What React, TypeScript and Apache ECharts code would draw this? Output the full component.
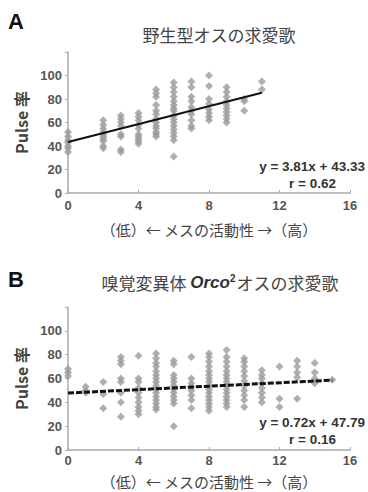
import React, { useEffect, useRef } from "react";
import * as echarts from "echarts";

// Panel A: wild-type males
const wtX = [0, 2, 3, 4, 5, 6, 7, 8, 9, 10, 11];
const wtPulse: number[][] = [
  [52, 48, 45, 43, 40, 38, 35],
  [62, 58, 55, 52, 50, 48, 46, 44, 40, 38],
  [66, 63, 60, 57, 50, 48, 37, 35],
  [68, 65, 62, 58, 55, 50, 48, 46, 44, 42],
  [88, 85, 82, 75, 70, 67, 63, 60, 57, 55, 52, 50, 48],
  [94, 90, 86, 82, 78, 75, 72, 70, 66, 63, 60, 57, 54, 51, 48, 45, 31],
  [95, 90, 82, 78, 73, 70, 67, 62, 57, 55],
  [100, 91, 80, 76, 71, 68, 65, 62],
  [90, 86, 82, 78, 75, 72, 69, 66, 63, 60],
  [80, 78, 70],
  [95, 88],
];
const wtSlope = 3.81;
const wtIntercept = 43.33;
const wtR = 0.62;
const wtFitRange = [0, 11];

// Panel B: Orco2 mutant males
const orX = [0, 1, 2, 3, 4, 5, 6, 7, 8, 9, 10, 11, 12, 13, 14, 15];
const orPulse: number[][] = [
  [68, 65, 62],
  [53, 50, 48],
  [57, 47, 35],
  [78, 75, 72, 60, 57, 48, 40, 28],
  [79, 60, 57, 52, 48, 44, 40, 36, 33, 30],
  [81, 77, 73, 70, 66, 63, 60, 57, 54, 51, 48, 45, 42, 39, 36, 34],
  [75, 72, 63, 60, 57, 54, 51, 48, 45, 42, 39, 20],
  [78, 60, 56, 53, 50, 46, 42, 35],
  [81, 78, 74, 70, 66, 63, 60, 57, 54, 51, 48, 45, 42, 39, 36, 33],
  [84, 78, 74, 70, 66, 63, 60, 57, 54, 51, 48, 45, 42, 39, 36],
  [77, 74, 70, 66, 62, 58, 54, 50, 46, 42, 36],
  [67, 63, 60, 56, 52, 48, 44, 40],
  [70, 43, 36],
  [75, 70, 65, 61, 43],
  [73, 65, 60, 56],
  [59],
];
const orSlope = 0.72;
const orIntercept = 47.79;
const orR = 0.16;
const orFitRange = [0, 15];

const xTicks = [0, 4, 8, 12, 16];
const yTicks = [0, 20, 40, 60, 80, 100];

const titleA = "野生型オスの求愛歌";
const titleBPre = "嗅覚変異体 ";
const titleBItal = "Orco";
const titleBSup = "2";
const titleBPost = "オスの求愛歌";
const xName = "（低）← メスの活動性 →（高）";
const yName = "Pulse 率";

const JP = '"Noto Sans CJK JP", "Noto Sans", sans-serif';
const LAT = '"Liberation Sans", Arial, "Noto Sans CJK JP", sans-serif';

function toPoints(xs: number[], ys: number[][]) {
  const out: number[][] = [];
  xs.forEach((x, i) => ys[i].forEach((y) => out.push([x, y])));
  return out;
}

function fmtEq(s: number, b: number) {
  return `y = ${s.toFixed(2)}x + ${b.toFixed(2)}`;
}

export default function App() {
  const ref = useRef<HTMLDivElement>(null);
  useEffect(() => {
    document.body.style.margin = "0";
    const chart = echarts.init(ref.current!, undefined, { renderer: "svg" });
    const grids = [
      { left: 68, right: 18, top: 52, height: 141 },
      { left: 68, right: 18, top: 307, height: 143 },
    ];
    const nameGaps = [29, 24];
    const labelMargins = [6, 4];
    const xAxis = [0, 1].map((i) => ({
      type: "value",
      gridIndex: i,
      min: 0,
      max: 16,
      interval: 4,
      name: xName,
      nameLocation: "middle",
      nameGap: nameGaps[i],
      nameTextStyle: { fontFamily: JP, fontSize: 15, color: "#444", lineHeight: 15 },
      axisLine: { lineStyle: { color: "#aaa", width: 1.5 } },
      axisTick: { show: true, inside: true, length: 3, lineStyle: { color: "#aaa" } },
      splitLine: { show: false },
      axisLabel: {
        fontFamily: LAT,
        fontSize: 13,
        lineHeight: 13,
        fontWeight: "bold",
        color: "#555",
        margin: labelMargins[i],
        formatter: (v: number) => (xTicks.includes(v) ? String(v) : ""),
      },
    }));
    const yAxis = [0, 1].map((i) => ({
      type: "value",
      gridIndex: i,
      min: 0,
      max: 120,
      interval: 20,
      name: yName,
      nameLocation: "middle",
      nameGap: 30,
      nameRotate: 90,
      nameTextStyle: { fontFamily: JP, fontSize: 16, fontWeight: "bold", color: "#444" },
      axisLine: { show: true, lineStyle: { color: "#aaa", width: 1.5 } },
      axisTick: { show: true, length: 3, lineStyle: { color: "#aaa" } },
      splitLine: { show: false },
      axisLabel: {
        fontFamily: LAT,
        fontSize: 13,
        fontWeight: "bold",
        color: "#555",
        margin: 6,
        formatter: (v: number) => (yTicks.includes(v) ? String(v) : ""),
      },
    }));
    const scatterStyle = { color: "#9b9b9b" };
    const eqFont = `bold 13.5px ${LAT}`;
    chart.setOption({
      animation: false,
      backgroundColor: "#fff",
      grid: grids,
      xAxis,
      yAxis,
      title: [
        {
          text: titleA,
          left: 214,
          top: 21,
          textAlign: "center",
          textStyle: { fontFamily: JP, fontSize: 17, fontWeight: "normal", color: "#444" },
        },
        {
          text: `{n|${titleBPre}}{i|${titleBItal}}{s|${titleBSup}}{n|${titleBPost}}`,
          left: 215,
          top: 268,
          textAlign: "center",
          textStyle: {
            fontWeight: "normal",
            rich: {
              n: { fontFamily: JP, fontSize: 17, fontWeight: "normal", color: "#444" },
              i: { fontFamily: LAT, fontSize: 17, fontStyle: "italic", fontWeight: "bold", color: "#333" },
              s: { fontFamily: LAT, fontSize: 10, fontWeight: "bold", color: "#333", verticalAlign: "top", padding: [0, 1, 8, 0] },
            },
          },
        },
      ],
      graphic: [
        { type: "text", left: 8, top: 10, style: { text: "A", font: `bold 22px ${LAT}`, fill: "#111" } },
        { type: "text", left: 8, top: 268, style: { text: "B", font: `bold 22px ${LAT}`, fill: "#111" } },
        { type: "text", x: 365, y: 166, style: { text: fmtEq(wtSlope, wtIntercept), font: eqFont, fill: "#333", align: "right", verticalAlign: "middle" } },
        { type: "text", x: 336, y: 183, style: { text: `r = ${wtR.toFixed(2)}`, font: eqFont, fill: "#333", align: "right", verticalAlign: "middle" } },
        { type: "text", x: 365, y: 422, style: { text: fmtEq(orSlope, orIntercept), font: eqFont, fill: "#333", align: "right", verticalAlign: "middle" } },
        { type: "text", x: 336, y: 439, style: { text: `r = ${orR.toFixed(2)}`, font: eqFont, fill: "#333", align: "right", verticalAlign: "middle" } },
      ],
      series: [
        {
          type: "scatter",
          xAxisIndex: 0,
          yAxisIndex: 0,
          symbol: "diamond",
          symbolSize: 8,
          itemStyle: scatterStyle,
          data: toPoints(wtX, wtPulse),
        },
        {
          type: "line",
          xAxisIndex: 0,
          yAxisIndex: 0,
          symbol: "none",
          lineStyle: { color: "#111", width: 2 },
          data: wtFitRange.map((x) => [x, wtSlope * x + wtIntercept]),
          z: 5,
        },
        {
          type: "scatter",
          xAxisIndex: 1,
          yAxisIndex: 1,
          symbol: "diamond",
          symbolSize: 8,
          itemStyle: scatterStyle,
          data: toPoints(orX, orPulse),
        },
        {
          type: "line",
          xAxisIndex: 1,
          yAxisIndex: 1,
          symbol: "none",
          lineStyle: { color: "#111", width: 3, type: [6, 2] },
          data: orFitRange.map((x) => [x, orSlope * x + orIntercept]),
          z: 5,
        },
      ],
    });
    return () => chart.dispose();
  }, []);
  return <div ref={ref} style={{ width: 368, height: 492, position: "absolute", left: 0, top: 0 }} />;
}
